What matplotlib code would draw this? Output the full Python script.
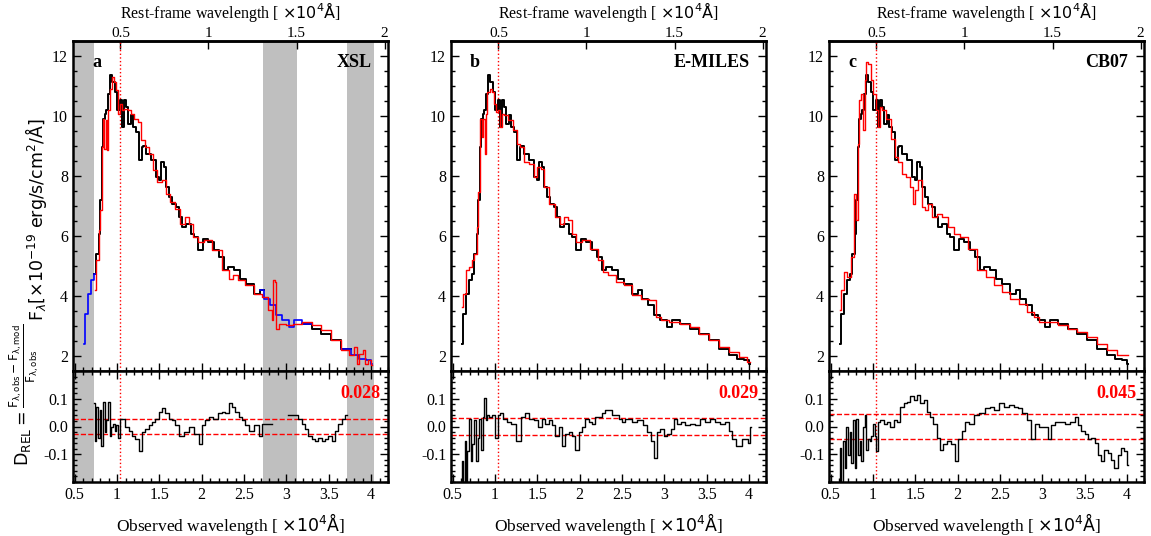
import numpy as np
import matplotlib
matplotlib.use("Agg")
import matplotlib.pyplot as plt
from matplotlib.ticker import MultipleLocator, FixedLocator, FuncFormatter

plt.rcParams['font.family'] = 'serif'
plt.rcParams['font.serif'] = ['Liberation Serif', 'DejaVu Serif']
plt.rcParams['mathtext.fontset'] = 'dejavusans'
plt.rcParams['axes.unicode_minus'] = False

# ---------------- data ----------------
one_plus_z = 2.08
line_rest = 0.5
bands = [(0.48, 0.73), (2.72, 3.12), (3.72, 4.03)]

obs_wave = [0.609, 0.636, 0.675, 0.714, 0.734, 0.773, 0.793, 0.812, 0.832, 0.843,
            0.863, 0.879, 0.91, 0.93, 0.96, 0.988, 1.016, 1.047, 1.067, 1.086,
            1.125, 1.145, 1.184, 1.2, 1.243, 1.28, 1.30, 1.32, 1.36, 1.44,
            1.477, 1.51, 1.536, 1.563, 1.595, 1.634, 1.673, 1.712, 1.75, 1.79,
            1.85, 1.89, 1.93, 1.986, 2.045, 2.10, 2.18, 2.24, 2.28, 2.34,
            2.42, 2.475, 2.57, 2.67, 2.71, 2.77, 2.85, 2.905, 3.0, 3.06,
            3.12, 3.24, 3.355, 3.47, 3.59, 3.71, 3.82, 3.90, 3.98, 4.01]
obs_flux = [2.41, 3.41, 4.08, 4.52, 4.74, 5.41, 6.08, 7.19, 8.97, 9.91,
            10.08, 10.19, 10.74, 11.36, 11.13, 10.8, 10.19, 10.52, 9.63, 10.52,
            10.3, 9.74, 10.02, 9.63, 9.47, 8.52, 8.97, 9.0, 8.74, 8.52,
            7.97, 7.86, 8.47, 8.3, 7.63, 7.3, 7.08, 6.97, 6.63, 6.3,
            6.41, 6.08, 5.97, 5.52, 5.91, 5.8, 5.52, 5.3, 4.86, 4.97,
            4.86, 4.58, 4.41, 4.08, 4.19, 3.91, 3.69, 3.36, 3.19, 2.97,
            3.19, 3.08, 2.91, 2.74, 2.52, 2.24, 2.02, 1.91, 1.86, 1.74]

xsl_wave = [0.74, 0.773, 0.793, 0.812, 0.832, 0.843, 0.86, 0.875, 0.89, 0.906,
            0.93, 0.95, 0.97, 1.0, 1.02, 1.047, 1.07, 1.106, 1.145, 1.184,
            1.223, 1.262, 1.30, 1.36, 1.40, 1.458, 1.497, 1.556, 1.595, 1.653,
            1.712, 1.77, 1.83, 1.87, 1.93, 1.986, 2.06, 2.18, 2.30, 2.34,
            2.40, 2.455, 2.57, 2.67, 2.75, 2.81, 2.84, 2.85, 2.87, 2.88,
            2.94, 3.04, 3.12, 3.24, 3.355, 3.47, 3.59, 3.71, 3.77, 3.82,
            3.84, 3.88, 3.92, 3.94, 3.98, 4.01]
xsl_flux = [4.19, 5.19, 6.19, 6.86, 8.97, 9.91, 8.91, 9.86, 8.86, 10.19,
            10.91, 11.3, 11.13, 10.86, 10.08, 10.41, 10.19, 10.24, 10.19, 10.08,
            9.91, 9.8, 9.19, 8.97, 8.74, 8.19, 7.8, 7.86, 7.41, 7.13,
            6.91, 6.41, 6.63, 6.41, 5.97, 5.8, 5.86, 5.52, 4.86, 4.58,
            4.69, 4.52, 4.36, 4.08, 3.97, 3.52, 3.19, 4.52, 4.47, 2.91,
            3.08, 3.02, 3.08, 3.13, 3.02, 2.86, 2.52, 2.19, 2.02, 2.3,
            1.74, 2.08, 2.19, 1.74, 1.86, 1.69]

emiles_wave = [0.609, 0.636, 0.675, 0.714, 0.734, 0.773, 0.793, 0.812, 0.832, 0.85,
               0.87, 0.89, 0.90, 0.92, 0.95, 0.977, 1.0, 1.027, 1.047, 1.067,
               1.086, 1.125, 1.184, 1.243, 1.28, 1.32, 1.36, 1.44, 1.477, 1.516,
               1.563, 1.595, 1.673, 1.75, 1.79, 1.83, 1.89, 1.93, 1.986, 2.06,
               2.18, 2.26, 2.28, 2.38, 2.475, 2.57, 2.67, 2.77, 2.87, 2.925,
               3.0, 3.12, 3.24, 3.355, 3.47, 3.59, 3.71, 3.82, 3.94, 4.01]
emiles_flux = [3.63, 4.08, 4.86, 4.97, 5.19, 5.41, 6.3, 7.47, 9.91, 9.3,
               9.91, 8.74, 10.08, 10.8, 10.91, 10.8, 10.41, 10.13, 10.19, 9.63,
               10.08, 10.02, 9.86, 9.52, 9.08, 8.97, 8.47, 8.41, 7.97, 8.3,
               8.24, 7.63, 7.08, 6.63, 6.41, 6.63, 6.52, 6.08, 5.8, 5.86,
               5.58, 5.19, 4.8, 4.69, 4.47, 4.36, 4.02, 3.91, 3.86, 3.3,
               3.19, 3.13, 3.08, 2.97, 2.74, 2.52, 2.3, 2.13, 1.97, 1.8]

cb07_wave = [0.609, 0.636, 0.675, 0.714, 0.754, 0.793, 0.812, 0.832, 0.843, 0.87,
             0.89, 0.91, 0.93, 0.96, 0.988, 1.016, 1.047, 1.067, 1.086, 1.125,
             1.184, 1.243, 1.28, 1.32, 1.36, 1.42, 1.46, 1.477, 1.516, 1.556,
             1.595, 1.634, 1.673, 1.73, 1.79, 1.85, 1.93, 1.986, 2.06, 2.18,
             2.28, 2.38, 2.475, 2.57, 2.67, 2.77, 2.87, 2.925, 3.0, 3.12,
             3.24, 3.355, 3.47, 3.59, 3.71, 3.82, 3.94, 4.01]
cb07_flux = [3.52, 4.19, 4.8, 4.63, 5.3, 7.41, 6.52, 9.08, 10.52, 10.74,
             9.52, 11.19, 11.8, 11.74, 11.19, 10.74, 10.19, 9.63, 10.3, 10.19,
             9.91, 9.24, 8.63, 8.47, 8.08, 7.97, 7.63, 7.08, 7.52, 7.86,
             6.97, 6.86, 7.08, 6.63, 6.74, 6.63, 6.3, 6.08, 5.97, 5.58,
             4.86, 4.63, 4.36, 4.13, 3.91, 3.74, 3.47, 3.3, 3.13, 3.13,
             3.02, 2.91, 2.8, 2.63, 2.41, 2.19, 2.02, 2.02]

res_xsl_wave = [0.725, 0.744, 0.764, 0.784, 0.803, 0.823, 0.843, 0.862, 0.882, 0.902,
                0.921, 0.941, 0.961, 0.980, 1.000, 1.020, 1.039, 1.079, 1.118, 1.157,
                1.197, 1.236, 1.275, 1.315, 1.354, 1.393, 1.433, 1.472, 1.511, 1.551,
                1.590, 1.629, 1.668, 1.708, 1.767, 1.826, 1.885, 1.944, 1.983, 2.022,
                2.062, 2.101, 2.160, 2.219, 2.258, 2.298, 2.337, 2.376, 2.416, 2.455,
                2.494, 2.534, 2.593, 2.652, 2.691, 2.730, 2.92,
                3.123, 3.163, 3.202, 3.241, 3.281, 3.320, 3.359, 3.399, 3.438, 3.477,
                3.517, 3.556, 3.595, 3.635, 3.674, 3.713]
res_xsl = [0.084, -0.052, 0.072, -0.040, 0.059, -0.070, 0.090, -0.021, 0.022, 0.090,
           -0.033, -0.002, 0.010, -0.015, 0.004, -0.040, 0.028, 0.028, -0.002, -0.015,
           -0.033, -0.046, -0.089, -0.021, -0.009, 0.004, 0.016, 0.028, 0.053, 0.065,
           0.047, 0.028, 0.022, 0.004, -0.033, -0.021, -0.002, -0.027, -0.064, 0.004,
           0.022, 0.035, 0.028, 0.047, 0.053, 0.047, 0.084, 0.072, 0.053, 0.035,
           0.022, 0.004, -0.015, 0.004, -0.033, 0.010, np.nan,
           0.041, 0.028, 0.010, -0.009, -0.033, -0.046, -0.052, -0.040, -0.052, -0.046,
           -0.033, -0.052, -0.015, 0.010, 0.028, 0.041]

res_emiles_wave = [0.597, 0.617, 0.633, 0.649, 0.664, 0.684, 0.704, 0.724, 0.743, 0.763,
                   0.783, 0.803, 0.822, 0.842, 0.862, 0.882, 0.901, 0.921, 0.941, 0.980,
                   1.020, 1.039, 1.079, 1.118, 1.158, 1.217, 1.276, 1.336, 1.375, 1.434,
                   1.493, 1.533, 1.572, 1.612, 1.651, 1.691, 1.730, 1.770, 1.809, 1.849,
                   1.888, 1.928, 1.967, 2.007, 2.046, 2.086, 2.125, 2.165, 2.204, 2.244,
                   2.283, 2.323, 2.362, 2.402, 2.441, 2.480, 2.520, 2.559, 2.599, 2.638,
                   2.717, 2.777, 2.816, 2.856, 2.895, 2.934, 2.974, 3.013, 3.053, 3.092,
                   3.132, 3.171, 3.211, 3.270, 3.329, 3.388, 3.448, 3.507, 3.566, 3.625,
                   3.685, 3.744, 3.783, 3.823, 3.862, 3.902, 3.941, 3.981, 4.000, 4.020]
res_emiles = [-0.24, -0.126, -0.24, -0.052, -0.24, -0.089, 0.028, -0.126, -0.064, 0.022,
              -0.126, -0.040, 0.028, -0.083, 0.035, 0.102, 0.022, 0.041, 0.035, 0.041,
              -0.040, 0.041, 0.047, 0.028, 0.016, 0.010, -0.052, 0.035, 0.047, 0.028,
              0.022, -0.002, 0.028, 0.010, 0.022, 0.004, -0.033, -0.002, -0.070, -0.027,
              -0.021, -0.033, -0.083, -0.021, -0.002, 0.028, 0.016, 0.010, 0.035, 0.035,
              0.047, 0.059, 0.059, 0.041, 0.041, 0.028, 0.016, 0.028, 0.028, 0.016,
              0.022, 0.004, -0.021, -0.052, -0.114, -0.021, -0.009, -0.033, -0.027, -0.009,
              0.028, 0.010, 0.016, 0.004, 0.010, 0.004, 0.028, 0.016, 0.028, 0.016,
              0.010, 0.016, -0.015, -0.046, -0.070, -0.070, -0.046, -0.046, -0.058, -0.002]

res_cb07_wave = [0.596, 0.616, 0.635, 0.655, 0.675, 0.694, 0.714, 0.733, 0.753, 0.773,
                 0.792, 0.812, 0.831, 0.851, 0.871, 0.890, 0.910, 0.929, 0.949, 0.969,
                 0.988, 1.008, 1.027, 1.047, 1.067, 1.106, 1.145, 1.184, 1.224, 1.263,
                 1.302, 1.341, 1.380, 1.420, 1.459, 1.498, 1.537, 1.576, 1.616, 1.655,
                 1.694, 1.733, 1.773, 1.812, 1.851, 1.890, 1.949, 1.988, 2.027, 2.067,
                 2.106, 2.165, 2.224, 2.282, 2.361, 2.400, 2.459, 2.518, 2.576, 2.635,
                 2.694, 2.733, 2.792, 2.851, 2.890, 2.929, 2.988, 3.047, 3.086, 3.125,
                 3.184, 3.243, 3.302, 3.361, 3.400, 3.439, 3.478, 3.518, 3.557, 3.596,
                 3.635, 3.675, 3.714, 3.753, 3.792, 3.831, 3.871, 3.910, 3.949, 3.988, 4.008]
res_cb07 = [-0.24, -0.077, -0.24, -0.052, -0.151, -0.002, -0.101, -0.021, -0.132, 0.022,
            -0.151, 0.028, -0.101, -0.052, -0.126, -0.002, 0.041, -0.083, -0.046, -0.052,
            -0.033, 0.010, -0.033, -0.089, 0.016, 0.022, 0.010, 0.016, -0.002, 0.022,
            0.016, 0.072, 0.084, 0.090, 0.109, 0.096, 0.115, 0.084, 0.096, 0.053,
            0.035, 0.010, -0.040, -0.083, -0.064, -0.052, -0.064, -0.126, -0.046, -0.015,
            0.016, 0.010, 0.041, 0.047, 0.065, 0.072, 0.059, 0.084, 0.072, 0.078,
            0.072, 0.065, 0.047, 0.022, -0.046, 0.010, -0.002, -0.002, -0.046, 0.004,
            0.016, 0.016, 0.010, 0.016, 0.035, 0.004, -0.015, -0.027, -0.046, -0.040,
            -0.058, -0.101, -0.126, -0.083, -0.095, -0.120, -0.151, -0.101, -0.077, -0.089, -0.138]

panel_letters = ['a', 'b', 'c']
panel_names = ['XSL', 'E-MILES', 'CB07']
sigmas = [0.028, 0.029, 0.045]
model_waves = [xsl_wave, emiles_wave, cb07_wave]
model_fluxes = [xsl_flux, emiles_flux, cb07_flux]
res_waves = [res_xsl_wave, res_emiles_wave, res_cb07_wave]
res_vals = [res_xsl, res_emiles, res_cb07]

# ---------------- figure ----------------
W, H = 1151, 536
fig = plt.figure(figsize=(W / 100, H / 100), dpi=100)

lefts = [73, 451, 829]
width = 315
top_px, mid_px, bot_px = 41, 371, 482

fmt_g = FuncFormatter(lambda v, p: ('%g' % round(v, 3)))
spine_lw = 1.8
tick_kw = dict(direction='in', width=1.0, labelsize=11.5)

ow = np.array(obs_wave)
of = np.array(obs_flux)

for i in range(3):
    l = lefts[i] / W
    w = width / W
    axm = fig.add_axes([l, 1 - mid_px / H, w, (mid_px - top_px) / H])
    axr = fig.add_axes([l, 1 - bot_px / H, w, (bot_px - mid_px) / H], sharex=axm)

    for ax in (axm, axr):
        ax.set_xlim(0.48, 4.2)
        for s in ax.spines.values():
            s.set_linewidth(spine_lw)
        ax.axvline(line_rest * one_plus_z, color='red', ls=':', lw=1.0, zorder=1)
        if i == 0:
            for b0, b1 in bands:
                ax.axvspan(b0, b1, color='#bfbfbf', lw=0, zorder=0)

    # main spectra
    if i == 0:
        in_band = np.zeros(len(ow), bool)
        for b0, b1 in bands:
            in_band |= (ow >= b0) & (ow <= b1)
        black = np.where(in_band, np.nan, of)
        blue_mask = in_band.copy()
        idx = np.where(in_band)[0]
        for k in idx:
            if k + 1 < len(ow):
                blue_mask[k + 1] = True
            if k - 1 >= 0:
                blue_mask[k - 1] = True
        blue = np.where(blue_mask, of, np.nan)
        axm.plot(ow, black, color='black', lw=1.4, drawstyle='steps-mid', zorder=3)
        axm.plot(ow, blue, color='blue', lw=1.2, drawstyle='steps-mid', zorder=4)
    else:
        axm.plot(ow, of, color='black', lw=1.4, drawstyle='steps-mid', zorder=3)
    axm.plot(model_waves[i], model_fluxes[i], color='red', lw=1.0,
             drawstyle='steps-mid', zorder=5)

    axm.set_ylim(1.5, 12.5)
    axm.yaxis.set_major_locator(MultipleLocator(2))
    axm.yaxis.set_minor_locator(MultipleLocator(0.5))
    axm.xaxis.set_major_locator(MultipleLocator(0.5))
    axm.xaxis.set_minor_locator(MultipleLocator(0.1))
    axm.tick_params(which='both', bottom=True, top=False, left=True, right=True, **tick_kw)
    axm.tick_params(which='major', length=6)
    axm.tick_params(which='minor', length=3)
    axm.tick_params(axis='x', labelbottom=False)

    sec = axm.secondary_xaxis('top', functions=(lambda x: x / one_plus_z,
                                                 lambda x: x * one_plus_z))
    sec.xaxis.set_major_locator(FixedLocator([0.5, 1.0, 1.5, 2.0]))
    sec.xaxis.set_major_formatter(fmt_g)
    sec.tick_params(which='major', direction='in', length=6, width=1.0, labelsize=11, pad=1)
    sec.spines['top'].set_linewidth(spine_lw)
    fig.text((lefts[i] + width / 2) / W, 1 - 0.5 / H,
             'Rest-frame wavelength [ $\\times10^4\\mathrm{Å}$]',
             ha='center', va='top', fontsize=11.5)

    axm.text(0.06, 0.935, panel_letters[i], transform=axm.transAxes, fontsize=13,
             fontweight='bold', ha='left', va='center')
    axm.text(0.948, 0.935, panel_names[i], transform=axm.transAxes, fontsize=13,
             fontweight='bold', ha='right', va='center')

    # residuals
    axr.plot(res_waves[i], res_vals[i], color='black', lw=1.0, drawstyle='steps-mid', zorder=3)
    axr.axhline(sigmas[i], color='red', ls='--', lw=1.0, zorder=2)
    axr.axhline(-sigmas[i], color='red', ls='--', lw=1.0, zorder=2)
    axr.set_ylim(-0.2, 0.2)
    axr.yaxis.set_major_locator(FixedLocator([-0.1, 0.0, 0.1]))
    axr.yaxis.set_minor_locator(MultipleLocator(0.02))
    axr.yaxis.set_major_formatter(FuncFormatter(lambda v, p: '%.1f' % v))
    axr.xaxis.set_major_formatter(fmt_g)
    axr.tick_params(which='both', bottom=True, top=True, left=True, right=True, **tick_kw)
    axr.tick_params(which='major', length=6)
    axr.tick_params(which='minor', length=3)
    axr.set_xlabel('Observed wavelength [ $\\times10^4\\mathrm{Å}$]', fontsize=12.5, labelpad=6)
    axr.text(0.975, 0.80, '%.3f' % sigmas[i], transform=axr.transAxes, color='red',
             fontsize=13, fontweight='bold', ha='right', va='center')

fig.text(36 / W, 1 - 220 / H,
         'F$_\\lambda$[$\\times$10$^{-19}$ erg/s/cm$^2$/Å]',
         rotation=90, ha='center', va='center', fontsize=12.5, family='DejaVu Sans')
fig.text(24 / W, 1 - 395 / H,
         '$\\mathrm{D_{REL}} = \\frac{\\mathrm{F_{\\lambda,obs}} - \\mathrm{F_{\\lambda,mod}}}{\\mathrm{F_{\\lambda,obs}}}$',
         rotation=90, ha='center', va='center', fontsize=12.5, family='DejaVu Sans')

fig.savefig('out.png', dpi=100)
